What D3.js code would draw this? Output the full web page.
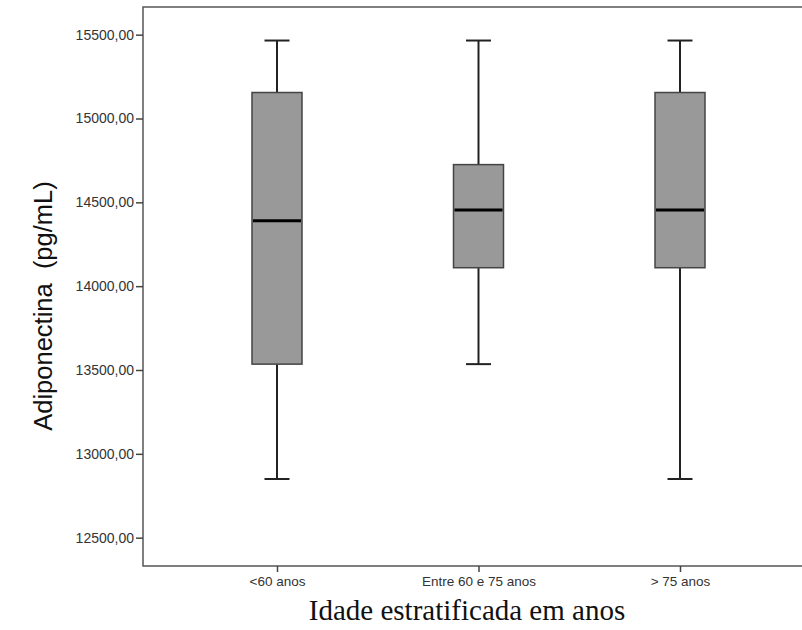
<!DOCTYPE html>
<html>
<head>
<meta charset="utf-8">
<script src="https://cdn.jsdelivr.net/npm/d3@7"></script>
<style>
  body { margin: 0; background: #fff; }
</style>
</head>
<body>
<div id="chart"></div>
<script>
// Data
const groups = ["<60 anos", "Entre 60 e 75 anos", "> 75 anos"];
const whiskerLow = [12850, 13535, 12850];
const q1 = [13535, 14110, 14110];
const median = [14390, 14455, 14455];
const q3 = [15155, 14725, 15155];
const whiskerHigh = [15465, 15465, 15465];
const yTicks = [12500, 13000, 13500, 14000, 14500, 15000, 15500];

const width = 802, height = 630;
const plot = { left: 143, top: 7, right: 814, bottom: 566 };

const svg = d3.select("#chart")
  .append("svg")
  .attr("width", width)
  .attr("height", height);

const y = d3.scaleLinear()
  .domain([12331, 15665])
  .range([plot.bottom, plot.top]);

const x = d3.scalePoint()
  .domain(groups)
  .range([plot.left, plot.right])
  .padding(0.665);

const boxW = 50, capW = 25;

// frame
svg.append("rect")
  .attr("x", plot.left)
  .attr("y", plot.top)
  .attr("width", plot.right - plot.left)
  .attr("height", plot.bottom - plot.top)
  .attr("fill", "none")
  .attr("stroke", "#555")
  .attr("stroke-width", 1.5);

// y axis
const yAxis = svg.append("g")
  .attr("transform", `translate(${plot.left},0)`)
  .call(d3.axisLeft(y).tickValues(yTicks).tickSize(7).tickPadding(2)
    .tickFormat(d => d3.format(".2f")(d).replace(".", ",")));
yAxis.select(".domain").remove();
yAxis.selectAll("line").attr("stroke", "#444").attr("stroke-width", 1.5);
yAxis.selectAll("text")
  .attr("font-family", "Arial, 'Liberation Sans', sans-serif")
  .attr("font-size", "14px")
  .attr("fill", "#333");

// x axis
const xAxis = svg.append("g")
  .attr("transform", `translate(0,${plot.bottom})`)
  .call(d3.axisBottom(x).tickSize(6).tickPadding(14));
xAxis.select(".domain").remove();
xAxis.selectAll("line").attr("stroke", "#444").attr("stroke-width", 1.5);
xAxis.selectAll("text")
  .attr("dy", null)
  .attr("font-family", "Arial, 'Liberation Sans', sans-serif")
  .attr("font-size", "13.5px")
  .attr("fill", "#333");

// boxes
const rows = groups.map((g, i) => ({
  g, lo: whiskerLow[i], q1: q1[i], med: median[i], q3: q3[i], hi: whiskerHigh[i]
}));

const box = svg.append("g").selectAll("g")
  .data(rows)
  .join("g");

box.append("line")
  .attr("x1", d => x(d.g)).attr("x2", d => x(d.g))
  .attr("y1", d => y(d.hi)).attr("y2", d => y(d.q3))
  .attr("stroke", "#222").attr("stroke-width", 2);

box.append("line")
  .attr("x1", d => x(d.g)).attr("x2", d => x(d.g))
  .attr("y1", d => y(d.q1)).attr("y2", d => y(d.lo))
  .attr("stroke", "#222").attr("stroke-width", 2);

box.append("line")
  .attr("x1", d => x(d.g) - capW / 2).attr("x2", d => x(d.g) + capW / 2)
  .attr("y1", d => y(d.hi)).attr("y2", d => y(d.hi))
  .attr("stroke", "#222").attr("stroke-width", 2);

box.append("line")
  .attr("x1", d => x(d.g) - capW / 2).attr("x2", d => x(d.g) + capW / 2)
  .attr("y1", d => y(d.lo)).attr("y2", d => y(d.lo))
  .attr("stroke", "#222").attr("stroke-width", 2);

box.append("rect")
  .attr("x", d => x(d.g) - boxW / 2)
  .attr("y", d => y(d.q3))
  .attr("width", boxW)
  .attr("height", d => y(d.q1) - y(d.q3))
  .attr("fill", "#999")
  .attr("stroke", "#444")
  .attr("stroke-width", 1.5);

box.append("line")
  .attr("x1", d => x(d.g) - boxW / 2 + 1).attr("x2", d => x(d.g) + boxW / 2 - 1)
  .attr("y1", d => y(d.med)).attr("y2", d => y(d.med))
  .attr("stroke", "#000").attr("stroke-width", 3);

// axis titles
svg.append("text")
  .attr("transform", `translate(52,306) rotate(-90)`)
  .attr("text-anchor", "middle")
  .attr("font-family", "Arial, 'Liberation Sans', sans-serif")
  .attr("font-size", "25.5px")
  .attr("fill", "#111")
  .style("white-space", "pre")
  .text("Adiponectina  (pg/mL)");

svg.append("text")
  .attr("x", 467)
  .attr("y", 620)
  .attr("text-anchor", "middle")
  .attr("font-family", "'Times New Roman', 'Liberation Serif', serif")
  .attr("font-size", "29px")
  .attr("fill", "#111")
  .text("Idade estratificada em anos");
</script>
</body>
</html>
